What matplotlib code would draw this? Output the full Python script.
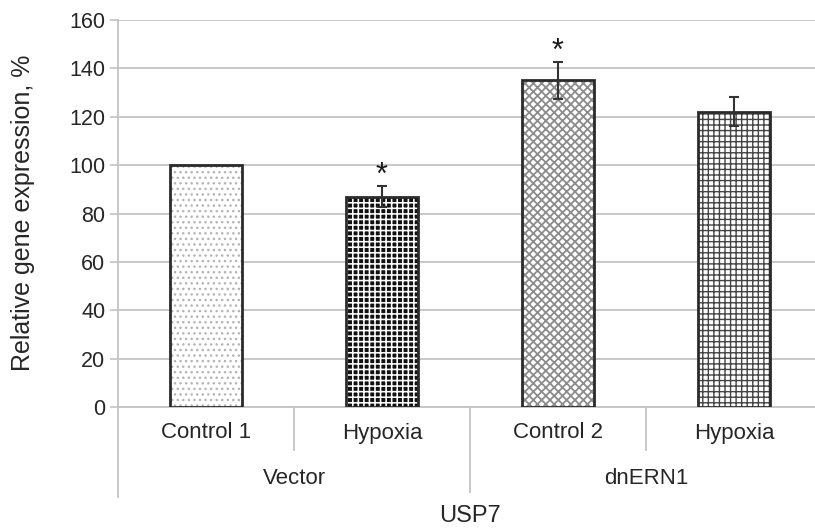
import matplotlib
matplotlib.use("Agg")
import matplotlib.pyplot as plt
import numpy as np

categories = ["Control 1", "Hypoxia", "Control 2", "Hypoxia"]
groups = ["Vector", "dnERN1"]
values = [100, 87, 135, 122]
errors = [0, 4.5, 7.5, 6]
significant = [False, True, True, False]
yticks = [0, 20, 40, 60, 80, 100, 120, 140, 160]
xlabel = "USP7"
ylabel = "Relative gene expression, %"

plt.rcParams['font.family'] = ['Liberation Sans', 'DejaVu Sans']
plt.rcParams['hatch.linewidth'] = 1.0

W, H = 815, 528
fig = plt.figure(figsize=(W / 100, H / 100), dpi=100)
ax_left, ax_right, ax_top, ax_bot = 118, 815, 20, 407
ax = fig.add_axes([ax_left / W, 1 - ax_bot / H, (ax_right - ax_left) / W, (ax_bot - ax_top) / H])

cat_px = 176
x = np.arange(len(categories))
ax.set_xlim(-0.5, -0.5 + (ax_right - ax_left) / cat_px)
ax.set_ylim(0, 160)

styles = [
    dict(face="white", hcol="#b4b4b4", hatch="...", hlw=1.0),
    dict(face="#111111", hcol="white", hatch="+++", hlw=1.15),
    dict(face="white", hcol="#8c8c8c", hatch="xxxx", hlw=1.3),
    dict(face="white", hcol="#444444", hatch="+++", hlw=1.0),
]
bw = 72 / cat_px
for i, (v, st) in enumerate(zip(values, styles)):
    b = ax.bar(x[i], v, width=bw, color=st["face"], edgecolor=st["hcol"],
               linewidth=0, hatch=st["hatch"], zorder=3)
    for p in b:
        if hasattr(p, "set_hatch_linewidth"):
            p.set_hatch_linewidth(st["hlw"])
    ax.bar(x[i], v, width=bw, fill=False, edgecolor="#2b2b2b", linewidth=2.0, zorder=4)
    if errors[i] > 0:
        ax.errorbar(x[i], v, yerr=errors[i], fmt="none", ecolor="#333333",
                    elinewidth=1.5, capsize=3.5, capthick=1.5, zorder=5)
    if significant[i]:
        ax.text(x[i], v + errors[i] - 2.0, "*", ha="center", va="bottom",
                fontsize=22, color="#1a1a1a", zorder=6)

ax.set_yticks(yticks)
ax.yaxis.grid(True, color="#c4c4c4", linewidth=1.3)
ax.set_axisbelow(True)
ax.set_xticks([])
for s in ["top", "right", "bottom"]:
    ax.spines[s].set_visible(False)
ax.spines["left"].set_color("#c4c4c4")
ax.spines["left"].set_linewidth(1.3)
ax.spines["left"].set_bounds(0, 160)
ax.tick_params(axis="y", length=6, width=1.2, color="#c4c4c4",
               labelsize=15.5, labelcolor="#262626", pad=3)
fig.text(23 / W, 1 - 213 / H, ylabel, rotation=90, ha="center", va="center",
         fontsize=18, color="#262626")

def fy(py):
    return (ax_bot - py) / (ax_bot - ax_top)

tr = ax.get_xaxis_transform()
ax.plot([-0.5, 0.5 + 3], [0, 0], transform=tr, color="#c4c4c4", lw=1.3, clip_on=False, zorder=2)
ax.plot([-0.5, -0.5], [0, fy(497)], transform=tr, color="#c4c4c4", lw=1.3, clip_on=False)
for xb in [0.5, 2.5]:
    ax.plot([xb, xb], [0, fy(450)], transform=tr, color="#c4c4c4", lw=1.3, clip_on=False)
ax.plot([1.5, 1.5], [0, fy(492)], transform=tr, color="#c4c4c4", lw=1.3, clip_on=False)

for i, c in enumerate(categories):
    ax.text(x[i], fy(433), c, transform=tr, ha="center", va="center",
            fontsize=16, color="#262626")
for g, gx in zip(groups, [0.5, 2.5]):
    ax.text(gx, fy(478), g, transform=tr, ha="center", va="center",
            fontsize=16, color="#262626")
ax.text(1.5, fy(516), xlabel, transform=tr, ha="center", va="center",
        fontsize=17, color="#262626")

fig.savefig("out.png", dpi=100)
